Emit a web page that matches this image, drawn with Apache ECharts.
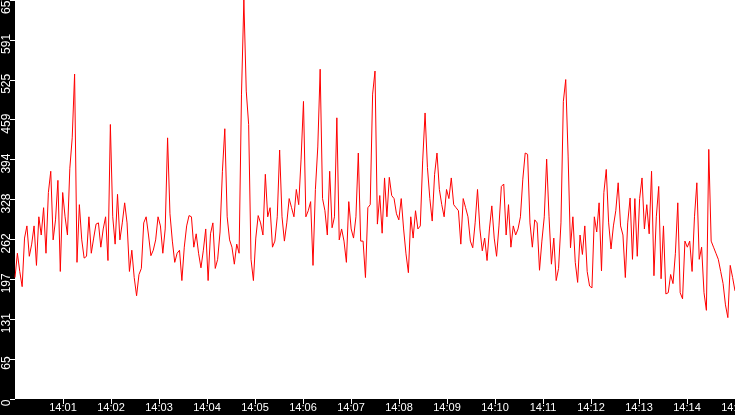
<!DOCTYPE html>
<html>
<head>
<meta charset="utf-8">
<style>
  html, body { margin: 0; padding: 0; background: #000; }
  #chart { width: 735px; height: 415px; }
</style>
<script src="https://cdn.jsdelivr.net/npm/echarts@6/dist/echarts.min.js"></script>
</head>
<body>
<div id="chart"></div>
<script>
// samples 14:00:00 .. 14:15:00, evenly spaced
const rate = [
    200, 240, 210, 185, 265, 285, 235, 255, 285, 220, 300, 270, 315, 240, 340, 375, 262, 295, 360, 210,
    340, 300, 270, 380, 430, 535, 225, 320, 262, 232, 235, 300, 240, 265, 288, 290, 250, 280,
    300, 228, 452, 300, 255, 337, 262, 290, 323, 290, 210, 245, 200, 170, 205, 215, 290, 300, 270, 236,
    245, 262, 300, 285, 240, 280, 430, 305, 260, 225, 240, 245, 195, 250, 285, 302, 300, 250,
    272, 240, 216, 245, 280, 195, 272, 290, 215, 230, 275, 375, 445, 300, 262, 250, 222, 255, 240, 502,
    657, 507, 452, 230, 195, 265, 302, 290, 270, 370, 300, 315, 250, 260, 300, 410, 300, 260,
    290, 330, 315, 300, 345, 320, 395, 490, 300, 310, 325, 220, 345, 415, 543, 330, 310, 270, 375, 282,
    300, 463, 262, 280, 260, 225, 325, 280, 265, 300, 405, 260, 260, 200, 315, 320, 502, 540,
    288, 335, 273, 364, 300, 365, 335, 330, 305, 295, 330, 280, 239, 208, 300, 265, 310, 280, 285, 392,
    471, 381, 330, 293, 370, 405, 345, 320, 300, 345, 330, 364, 320, 315, 310, 255, 330, 315,
    300, 260, 249, 290, 345, 280, 244, 265, 228, 280, 318, 265, 235, 285, 350, 354, 270, 320, 250, 285,
    270, 280, 300, 362, 405, 403, 290, 250, 295, 290, 212, 260, 300, 395, 300, 222, 265, 195,
    215, 290, 490, 526, 400, 249, 300, 225, 192, 270, 238, 285, 210, 186, 183, 300, 275, 323, 211, 340,
    378, 290, 247, 285, 310, 356, 285, 270, 200, 290, 331, 230, 330, 235, 330, 364, 280,
    320, 272, 375, 203, 300, 350, 198, 285, 173, 175, 205, 190, 240, 323, 175, 165, 260, 250, 260, 210,
    300, 356, 230, 250, 175, 146, 411, 260, 250, 240, 230, 210, 190, 155, 134, 220, 200, 178
];
const minuteLabels = ['14:00', '14:01', '14:02', '14:03', '14:04', '14:05', '14:06', '14:07',
    '14:08', '14:09', '14:10', '14:11', '14:12', '14:13', '14:14', '14:15'];
const yMax = 657;

const span = 900; // seconds shown
let points = [];
for (let i = 0; i < rate.length; i++) {
    points.push([i * span / (rate.length - 1), rate[i]]);
}

const chart = echarts.init(document.getElementById('chart'));
chart.setOption({
    animation: false,
    backgroundColor: '#000',
    grid: {
        left: 15, right: 0, top: 0, bottom: 16,
        outerBoundsMode: 'none',
        containLabel: false,
        show: true, backgroundColor: '#fff', borderWidth: 0
    },
    xAxis: {
        type: 'value',
        min: 0,
        max: span,
        interval: 60,
        splitLine: { show: false },
        axisLine: { show: false },
        axisTick: { show: true, length: 5, lineStyle: { color: '#fff' } },
        axisLabel: {
            color: '#fff',
            fontFamily: 'Liberation Sans, Arial, sans-serif',
            fontSize: 11,
            margin: 3,
            showMinLabel: false,
            showMaxLabel: true,
            hideOverlap: false,
            formatter: v => minuteLabels[Math.round(v / 60)]
        }
    },
    yAxis: {
        type: 'value',
        min: 0,
        max: yMax,
        interval: yMax / 10,
        splitLine: { show: false },
        axisLine: { show: false },
        axisTick: { show: true, length: 5, lineStyle: { color: '#fff' } },
        axisLabel: {
            color: '#fff',
            fontFamily: 'Liberation Sans Narrow, Liberation Sans, Arial, sans-serif',
            fontSize: 12,
            rotate: 90,
            margin: 2,
            padding: [0, 8, 0, 0],
            showMaxLabel: true,
            formatter: v => String(Math.floor(v + 1e-6))
        }
    },
    series: [{
        type: 'line',
        data: points,
        showSymbol: false,
        lineStyle: { color: '#ff0000', width: 1 },
        itemStyle: { color: '#ff0000' }
    }]
});
</script>
</body>
</html>
